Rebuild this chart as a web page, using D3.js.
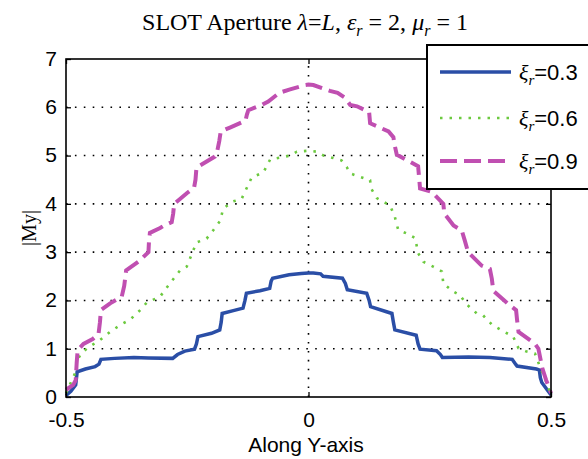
<!DOCTYPE html>
<html><head><meta charset="utf-8">
<script src="https://cdn.jsdelivr.net/npm/d3@7/dist/d3.min.js"></script>
<style>body{margin:0;background:#fff}</style>
</head><body>
<svg id="c" width="588" height="459"></svg>
<script>
// ---- data ----
const xTicks = [-0.5, 0, 0.5];
const xTickLabels = ["-0.5", "0", "0.5"];
const yTicks = [0, 1, 2, 3, 4, 5, 6, 7];
const legendLabels = ["=0.3", "=0.6", "=0.9"];

const xi03 = [[-0.5,0.03],[-0.49,0.12],[-0.48,0.25],[-0.477,0.52],[-0.46,0.58],[-0.44,0.63],[-0.432,0.68],[-0.428,0.78],[-0.40,0.80],[-0.36,0.82],[-0.33,0.81],[-0.28,0.80],[-0.27,0.88],[-0.255,0.95],[-0.235,0.99],[-0.231,1.1],[-0.228,1.25],[-0.2,1.32],[-0.183,1.39],[-0.18,1.55],[-0.178,1.73],[-0.155,1.79],[-0.135,1.84],[-0.131,2.0],[-0.128,2.15],[-0.1,2.2],[-0.08,2.25],[-0.077,2.4],[-0.074,2.46],[-0.04,2.53],[-0.015,2.56],[0,2.57],
  [0.01,2.57],[0.025,2.55],[0.03,2.5],[0.07,2.46],[0.076,2.35],[0.08,2.22],[0.12,2.15],[0.125,2.0],[0.128,1.87],[0.172,1.73],[0.175,1.55],[0.178,1.39],[0.222,1.28],[0.226,1.1],[0.23,0.99],[0.264,0.96],[0.272,0.88],[0.276,0.82],[0.33,0.83],[0.374,0.82],[0.42,0.78],[0.427,0.68],[0.43,0.64],[0.47,0.58],[0.476,0.56],[0.478,0.4],[0.481,0.3],[0.5,0.04]];

const xi06 = [[-0.5,0.08],[-0.49,0.3],[-0.481,0.5],[-0.477,0.75],[-0.469,0.9],[-0.455,1.02],[-0.43,1.18],[-0.409,1.35],[-0.387,1.5],[-0.368,1.6],[-0.347,1.8],[-0.334,1.95],[-0.306,2.08],[-0.286,2.35],[-0.265,2.62],[-0.251,2.7],[-0.231,3.2],[-0.21,3.28],[-0.196,3.46],[-0.182,3.65],[-0.176,3.9],[-0.156,4.05],[-0.138,4.1],[-0.117,4.55],[-0.093,4.65],[-0.079,4.92],[-0.038,5.0],[-0.024,5.08],[0,5.1],
  [0.017,5.08],[0.031,5.0],[0.051,4.95],[0.068,4.9],[0.079,4.76],[0.086,4.63],[0.106,4.56],[0.127,4.49],[0.129,4.32],[0.141,4.12],[0.151,4.06],[0.168,3.97],[0.178,3.73],[0.185,3.46],[0.202,3.39],[0.22,3.29],[0.226,2.98],[0.237,2.8],[0.257,2.7],[0.275,2.6],[0.278,2.35],[0.299,2.18],[0.312,2.11],[0.326,1.92],[0.347,1.73],[0.36,1.69],[0.378,1.5],[0.402,1.36],[0.422,1.25],[0.433,1.01],[0.45,0.94],[0.467,0.9],[0.477,0.63],[0.487,0.4],[0.5,0.04]];

const xi09 = [[-0.5,0.15],[-0.485,0.25],[-0.48,0.35],[-0.478,0.7],[-0.476,0.97],[-0.464,1.1],[-0.445,1.2],[-0.433,1.3],[-0.43,1.55],[-0.428,1.8],[-0.409,1.94],[-0.385,2.08],[-0.38,2.3],[-0.376,2.62],[-0.351,2.8],[-0.33,3.0],[-0.329,3.2],[-0.327,3.4],[-0.306,3.5],[-0.296,3.56],[-0.282,3.62],[-0.279,3.8],[-0.277,4.0],[-0.251,4.22],[-0.236,4.33],[-0.233,4.5],[-0.231,4.75],[-0.193,4.98],[-0.188,5.1],[-0.184,5.3],[-0.181,5.5],[-0.162,5.58],[-0.13,5.72],[-0.127,5.85],[-0.124,5.94],[-0.096,6.05],[-0.083,6.12],[-0.06,6.3],[-0.038,6.37],[-0.007,6.46],[0,6.47],
  [0.01,6.46],[0.044,6.34],[0.06,6.3],[0.075,6.2],[0.086,6.05],[0.1,6.02],[0.125,5.9],[0.127,5.67],[0.165,5.5],[0.175,5.38],[0.178,5.2],[0.182,5.02],[0.226,4.78],[0.228,4.55],[0.23,4.32],[0.254,4.25],[0.278,4.0],[0.28,3.8],[0.299,3.55],[0.316,3.45],[0.322,3.25],[0.329,3.0],[0.357,2.72],[0.374,2.65],[0.378,2.45],[0.381,2.2],[0.415,1.9],[0.428,1.8],[0.43,1.6],[0.433,1.35],[0.467,1.1],[0.474,1.0],[0.478,0.8],[0.482,0.6],[0.49,0.35],[0.5,0.08]];

const series = [
  {data: xi03, color: "#2a4ea6", width: 3.5, dash: null},
  {data: xi06, color: "#6cc93f", width: 2.6, dash: "2.5 7"},
  {data: xi09, color: "#c04fb1", width: 4, dash: "17 7"}
];

// ---- layout ----
const svg = d3.select("#c");
const L = 66, R = 551, T = 59, B = 397;
const x = d3.scaleLinear().domain([-0.5, 0.5]).range([L, R]);
const y = d3.scaleLinear().domain([0, 7]).range([B, T]);
const SANS = "'Liberation Sans', Arial, sans-serif";
const SERIF = "'Liberation Serif', 'Times New Roman', serif";

// grid
const grid = svg.append("g").attr("stroke", "#000").attr("stroke-width", 1.6).attr("stroke-dasharray", "1.6 7.3");
grid.selectAll(".hg").data(yTicks.filter(d => d > 0 && d < 7)).enter().append("line")
  .attr("x1", L).attr("x2", R).attr("y1", d => y(d)).attr("y2", d => y(d));
grid.selectAll(".vg").data(xTicks.filter(d => d > -0.5 && d < 0.5)).enter().append("line")
  .attr("x1", d => x(d)).attr("x2", d => x(d)).attr("y1", B).attr("y2", T);

// lines
const line = d3.line().x(d => x(d[0])).y(d => y(d[1]));
series.forEach(s => {
  svg.append("path").attr("d", line(s.data)).attr("fill", "none")
    .attr("stroke", s.color).attr("stroke-width", s.width)
    .attr("stroke-dasharray", s.dash).attr("stroke-linejoin", "miter");
});

// axes (ticks inside)
const axB = svg.append("g").attr("transform", `translate(0,${B})`)
  .call(d3.axisBottom(x).tickValues(xTicks).tickSize(-5).tickFormat((d, i) => xTickLabels[i]).tickPadding(15));
const axT = svg.append("g").attr("transform", `translate(0,${T})`)
  .call(d3.axisTop(x).tickValues(xTicks).tickSize(-5).tickFormat(""));
const axL = svg.append("g").attr("transform", `translate(${L},0)`)
  .call(d3.axisLeft(y).tickValues(yTicks).tickSize(-5).tickFormat(d3.format("d")).tickPadding(9));
const axR = svg.append("g").attr("transform", `translate(${R},0)`)
  .call(d3.axisRight(y).tickValues(yTicks).tickSize(-5).tickFormat(""));
[axB, axT, axL, axR].forEach(a => {
  a.select(".domain").remove();
  a.selectAll("line").attr("stroke", "#000").attr("stroke-width", 1.3);
  a.selectAll("text").attr("fill", "#000").style("font-family", SANS).style("font-size", "21px");
});
axL.selectAll("text").attr("dy", "0.3em");

// frame
svg.append("rect").attr("x", L).attr("y", T).attr("width", R - L).attr("height", B - T)
  .attr("fill", "none").attr("stroke", "#000").attr("stroke-width", 1.6);

// axis labels
svg.append("text").attr("x", 306).attr("y", 452).attr("text-anchor", "middle")
  .style("font-family", SANS).style("font-size", "21px").text("Along Y-axis");
svg.append("text").attr("transform", `translate(36,${(T + B) / 2}) rotate(-90)`).attr("text-anchor", "middle")
  .style("font-family", SERIF).style("font-size", "20px").text("|My|");

// title
const title = svg.append("text").attr("x", 305).attr("y", 30).attr("text-anchor", "middle")
  .style("font-family", SERIF).style("font-size", "24px");
title.append("tspan").text("SLOT Aperture ");
title.append("tspan").style("font-style", "italic").text("λ");
title.append("tspan").text("=");
title.append("tspan").style("font-style", "italic").text("L");
title.append("tspan").text(",  ");
title.append("tspan").style("font-style", "italic").text("ε");
title.append("tspan").style("font-style", "italic").style("font-size", "16px").attr("dy", 6).text("r");
title.append("tspan").attr("dy", -6).text(" = 2, ");
title.append("tspan").style("font-style", "italic").text("μ");
title.append("tspan").style("font-style", "italic").style("font-size", "16px").attr("dy", 6).text("r");
title.append("tspan").attr("dy", -6).text(" = 1");

// legend
const lg = svg.append("g");
lg.append("rect").attr("x", 427).attr("y", 45).attr("width", 165).attr("height", 144)
  .attr("fill", "#fff").attr("stroke", "#000").attr("stroke-width", 2);
const legY = [72, 118, 161];
series.forEach((s, i) => {
  lg.append("line").attr("x1", 440).attr("x2", 511).attr("y1", legY[i]).attr("y2", legY[i])
    .attr("stroke", s.color).attr("stroke-width", s.width).attr("stroke-dasharray", s.dash);
  const t = lg.append("text").attr("x", 519).attr("y", legY[i] + 8);
  t.append("tspan").style("font-family", SERIF).style("font-style", "italic").style("font-size", "22px").text("ξ");
  t.append("tspan").style("font-family", SERIF).style("font-style", "italic").style("font-size", "15px").attr("dy", 5).text("r");
  t.append("tspan").attr("dy", -5).style("font-family", SANS).style("font-size", "22px").text(legendLabels[i]);
});
</script>
</body></html>
